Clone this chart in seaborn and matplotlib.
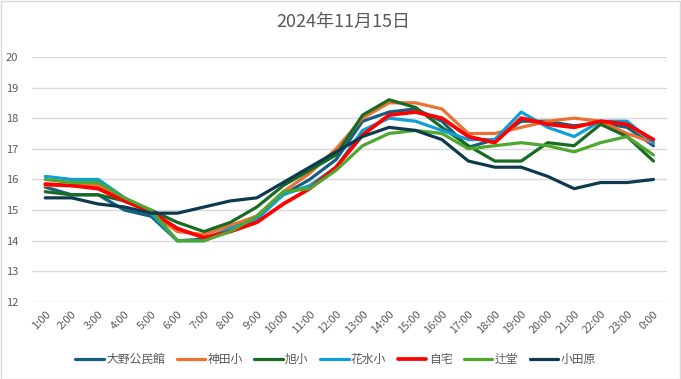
import pandas as pd
import matplotlib
matplotlib.use('Agg')
import matplotlib.pyplot as plt
import seaborn as sns
from matplotlib.patches import Rectangle

# hourly temperatures, 2024-11-15
times = ['1:00', '2:00', '3:00', '4:00', '5:00', '6:00', '7:00', '8:00', '9:00', '10:00', '11:00', '12:00',
         '13:00', '14:00', '15:00', '16:00', '17:00', '18:00', '19:00', '20:00', '21:00', '22:00', '23:00', '0:00']

oono = [15.75, 15.5, 15.5, 15.0, 14.8, 14.0, 14.05, 14.4, 14.8, 15.5, 16.0, 16.65,
        17.9, 18.2, 18.3, 17.9, 17.05, 17.3, 17.9, 17.9, 17.75, 17.85, 17.7, 17.1]
kanda = [15.8, 15.8, 15.8, 15.3, 14.9, 14.3, 14.2, 14.5, 14.8, 15.6, 16.2, 17.0,
         18.0, 18.5, 18.5, 18.3, 17.5, 17.5, 17.7, 17.9, 18.0, 17.9, 17.5, 17.2]
asahi = [15.6, 15.5, 15.5, 15.3, 15.0, 14.6, 14.3, 14.6, 15.1, 15.8, 16.3, 16.8,
         18.1, 18.6, 18.35, 17.7, 17.1, 16.6, 16.6, 17.2, 17.1, 17.8, 17.4, 16.6]
hanamizu = [16.1, 16.0, 16.0, 15.4, 14.9, 14.0, 14.0, 14.4, 14.7, 15.5, 15.8, 16.4,
            17.6, 18.0, 17.9, 17.6, 17.3, 17.3, 18.2, 17.7, 17.4, 17.9, 17.9, 17.2]
jitaku = [15.85, 15.8, 15.7, 15.3, 14.95, 14.4, 14.1, 14.3, 14.6, 15.2, 15.7, 16.4,
          17.45, 18.1, 18.2, 18.0, 17.4, 17.2, 18.0, 17.8, 17.7, 17.9, 17.8, 17.3]
tsujido = [16.0, 15.9, 15.9, 15.4, 15.0, 14.0, 14.0, 14.3, 14.8, 15.6, 15.7, 16.3,
           17.1, 17.5, 17.6, 17.5, 17.0, 17.1, 17.2, 17.1, 16.9, 17.2, 17.4, 16.8]
odawara = [15.4, 15.4, 15.2, 15.1, 14.9, 14.9, 15.1, 15.3, 15.4, 15.9, 16.4, 16.9,
           17.4, 17.7, 17.6, 17.3, 16.6, 16.4, 16.4, 16.1, 15.7, 15.9, 15.9, 16.0]

series = {'大野公民館': oono, '神田小': kanda, '旭小': asahi, '花水小': hanamizu,
          '自宅': jitaku, '辻堂': tsujido, '小田原': odawara}
colors = ['#156082', '#E97132', '#196B24', '#0F9ED5', '#FF0000', '#4EA72E', '#0E3A4F']

rows = []
for name, vals in series.items():
    for i, v in enumerate(vals):
        rows.append({'pos': i, 'time': times[i], 'name': name, 'temp': v})
df = pd.DataFrame(rows)

sns.set_theme(style='white')
plt.rcParams['font.family'] = ['Noto Sans CJK JP', 'DejaVu Sans']

fig = plt.figure(figsize=(6.81, 3.79), dpi=100)
ax = fig.add_axes([0.047, 0.203, 0.932, 0.647])

sns.lineplot(data=df, x='pos', y='temp', hue='name', hue_order=list(series.keys()),
             palette=colors, linewidth=2.3, ax=ax, legend=True)
for line in ax.lines:
    if line.get_color().upper() == '#FF0000':
        line.set_linewidth(2.7)

ax.set_xlim(-0.5, len(times) - 0.5)
ax.set_ylim(12, 20)
ax.set_yticks(range(12, 21))
ax.set_xticks(range(len(times)))
ax.set_xticklabels(times, rotation=45, ha='right', rotation_mode='anchor')
ax.tick_params(axis='both', length=0, labelsize=8, labelcolor='#595959')
ax.tick_params(axis='y', pad=10)
ax.tick_params(axis='x', pad=5)
ax.grid(axis='y', color='#D9D9D9', linewidth=1)
ax.set_axisbelow(True)
for s in ax.spines.values():
    s.set_visible(False)
ax.set_xlabel('')
ax.set_ylabel('')

handles, labels = ax.get_legend_handles_labels()
ax.get_legend().remove()
fig.legend(handles, labels, loc='center', bbox_to_anchor=(0.493, 0.052), ncol=7,
           frameon=False, fontsize=8.5, handlelength=2.4, handletextpad=0.2,
           columnspacing=1.0, labelcolor='#595959')

fig.text(0.504, 0.942, '2024年11月15日', ha='center', va='center', fontsize=13, color='#595959')

fig.patches.append(Rectangle((0.001, 0.001), 0.997, 0.996, transform=fig.transFigure,
                             fill=False, edgecolor='#D9D9D9', linewidth=1))

fig.savefig('out.png', dpi=100)
plt.close(fig)
